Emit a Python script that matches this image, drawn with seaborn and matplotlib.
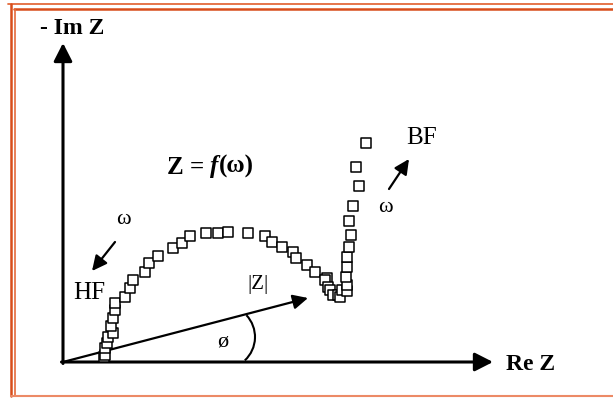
import numpy as np
import pandas as pd
import matplotlib
matplotlib.use('Agg')
import matplotlib.pyplot as plt
import seaborn as sns
from matplotlib.patches import Arc
from matplotlib.lines import Line2D

# Nyquist plot (arbitrary units, HF near origin -> BF at top right)
re_z = [41, 42, 42, 44, 45, 50, 48, 50, 52, 52, 62, 67, 70, 82, 86, 95, 110, 119,
        127, 143, 155, 165, 185, 202, 209, 219, 230, 233, 244, 252, 264, 262, 265,
        267, 270, 275, 277, 279, 284, 284, 283, 284, 284, 286, 288, 286, 290, 296,
        293, 303]
im_z = [5, 7, 14, 19, 25, 29, 36, 44, 52, 59, 65, 74, 82, 90, 99, 106, 114, 119,
        126, 129, 129, 130, 129, 126, 120, 115, 110, 104, 97, 90, 84, 82, 75,
        72, 67, 67, 65, 72, 71, 77, 85, 95, 105, 115, 127, 141, 156, 176,
        195, 219]

df = pd.DataFrame({'re': re_z, 'im': im_z})

W, H = 613, 398
sns.set_style('white')
plt.rcParams['font.family'] = ['Liberation Serif', 'DejaVu Serif']
plt.rcParams['text.color'] = 'black'

fig = plt.figure(figsize=(W / 100, H / 100), dpi=100)
ax = fig.add_axes([0, 0, 1, 1])
ax.set_xlim(-63, W - 63)
ax.set_ylim(362 - H, 362)
ax.axis('off')


def fp(px, py):
    return px / W, 1 - py / H


# orange double frame
for xs, ys, c, lw in [((8, W), (4, 4), '#e46a3c', 1.3), ((14, W), (8.5, 8.5), '#d84d1a', 1.8),
                      ((10.5, 10.5), (4, 396), '#d84d1a', 1.8), ((14.5, 14.5), (8.5, 396), '#e46a3c', 1.2),
                      ((10.5, W), (396, 396), '#ec8a66', 1.5)]:
    p0, p1 = fp(xs[0], ys[0]), fp(xs[1], ys[1])
    fig.add_artist(Line2D([p0[0], p1[0]], [p0[1], p1[1]], transform=fig.transFigure,
                          color=c, lw=lw))

# axes with arrows
axis_arrow = dict(arrowstyle='-|>,head_length=0.55,head_width=0.28', lw=2.2, color='black',
                  mutation_scale=20, shrinkA=0, shrinkB=0)
ax.annotate('', xy=(0, 319), xytext=(0, -1.5), arrowprops=axis_arrow)
ax.annotate('', xy=(430, 0), xytext=(-1.5, 0), arrowprops=axis_arrow)

small_arrow = dict(arrowstyle='-|>,head_length=0.45,head_width=0.22', lw=1.6, color='black',
                   mutation_scale=20, shrinkA=0, shrinkB=0)
ax.annotate('', xy=(245, 64), xytext=(0, 0), arrowprops=small_arrow)
ax.annotate('', xy=(29, 91), xytext=(52, 120), arrowprops=small_arrow)
ax.annotate('', xy=(346, 203), xytext=(326, 173), arrowprops=small_arrow)

ax.add_patch(Arc((160, 25), 64, 64, theta1=-47, theta2=43, lw=1.5, color='black'))

sns.scatterplot(data=df, x='re', y='im', marker='s', s=50, color='white',
                edgecolor='black', linewidth=1.1, ax=ax, zorder=5, legend=False)

ax.text(9, 334, '- Im Z', fontsize=17, fontweight='bold', ha='center', va='center')
ax.text(468, -3, 'Re Z', fontsize=17, fontweight='bold', ha='center', va='center')
t1 = ax.text(104, 195, 'Z = ', fontsize=18, fontweight='bold', ha='left', va='center')
t2 = ax.annotate('f', xy=(1, 0), xycoords=t1, fontsize=18, fontweight='bold',
                 style='italic', ha='left', va='bottom')
ax.annotate('(ω)', xy=(1, 0), xycoords=t2, fontsize=18, fontweight='bold',
            ha='left', va='bottom')
ax.text(359, 224, 'BF', fontsize=18, ha='center', va='center')
ax.text(26, 69, 'HF', fontsize=18, ha='center', va='center')
ax.text(60, 143, 'ω', fontsize=16, ha='center', va='center')
ax.text(322, 155, 'ω', fontsize=16, ha='center', va='center')
ax.text(195, 77, '|Z|', fontsize=15, ha='center', va='center')
ax.text(160, 20, 'ø', fontsize=16, ha='center', va='center')

fig.savefig('out.png', dpi=100)
